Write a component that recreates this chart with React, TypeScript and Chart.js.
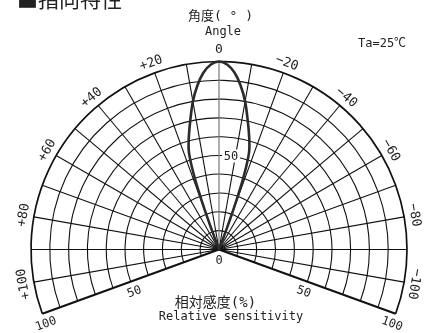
import { useEffect, useRef } from "react";
import { Chart, registerables } from "chart.js";

Chart.register(...registerables);

// Directivity pattern (angle from axis in degrees, positive = left side)
const ANGLES = [-21, -20.5, -20, -19.5, -19, -18, -17, -15, -12.5, -10, -7.5, -5, -2.5, 0, 2.5, 5, 7.5, 10, 12.5, 15, 17, 18, 19, 19.5, 20, 20.5, 21];
const SENSITIVITY = [0, 8, 18, 28, 37, 48, 55, 62, 70.5, 80, 88, 94.5, 98.5, 100, 98.5, 94.5, 88, 80, 70.5, 62, 55, 48, 37, 28, 18, 8, 0];

// Grid
const RINGS = [10, 20, 30, 40, 50, 60, 70, 80, 90, 100];
const SPOKES = [-110, -100, -90, -80, -70, -60, -50, -40, -30, -20, -10, 0, 10, 20, 30, 40, 50, 60, 70, 80, 90, 100, 110];

// Angle tick labels
const ANGLE_TICKS = [100, 80, 60, 40, 20, 0, -20, -40, -60, -80, -100];
const ANGLE_TICK_LABELS = ["+100", "+80", "+60", "+40", "+20", "0", "\u221220", "\u221240", "\u221260", "\u221280", "\u2212100"];

// Radial tick labels along the boundary
const RADIAL_TICKS = [50, 100];
const RADIAL_TICK_LABELS = ["50", "100"];

const TITLE = "■指向特性";
const ANGLE_TITLE_JA = "角度( ° )";
const ANGLE_TITLE_EN = "Angle";
const SENS_TITLE_JA = "相対感度(%)";
const SENS_TITLE_EN = "Relative sensitivity";
const CONDITION = "Ta=25℃";

const W = 433;
const H = 333;
const CX = 219;
const CY = 249.5;
const UNIT = 1.88; // px per percent
const FONT = "'DejaVu Sans Mono','Noto Sans CJK JP',sans-serif";
const TXT = "#222";

const rad = (d: number) => (d * Math.PI) / 180;

const gridPlugin = {
  id: "polarGrid",
  beforeDatasetsDraw(chart: any) {
    const { ctx } = chart;
    const xs = chart.scales.x;
    const ys = chart.scales.y;
    const P = (vx: number, vy: number) => [xs.getPixelForValue(vx), ys.getPixelForValue(vy)];
    const [cx, cy] = P(0, 0);
    const unit = xs.getPixelForValue(1) - cx;
    const maxA = Math.max(...SPOKES);
    const maxR = Math.max(...RINGS);
    ctx.save();
    ctx.fillStyle = "#fff";
    ctx.fillRect(0, 0, chart.width, chart.height);
    const a0 = Math.atan2(-Math.cos(rad(maxA)), -Math.sin(rad(maxA)));
    const a1 = Math.atan2(-Math.cos(rad(-maxA)), Math.sin(rad(maxA))) + 2 * Math.PI;
    RINGS.forEach((r) => {
      ctx.beginPath();
      ctx.arc(cx, cy, r * unit, a0, a1, false);
      ctx.lineWidth = r === maxR ? 1.7 : 1.1;
      ctx.strokeStyle = "#111";
      ctx.stroke();
    });
    SPOKES.forEach((a) => {
      const [ex, ey] = P(-maxR * Math.sin(rad(a)), maxR * Math.cos(rad(a)));
      ctx.beginPath();
      ctx.moveTo(cx, cy);
      ctx.lineTo(ex, ey);
      if (a === 0) {
        ctx.strokeStyle = "#777";
        ctx.lineWidth = 1.2;
      } else if (Math.abs(a) === maxA) {
        ctx.strokeStyle = "#111";
        ctx.lineWidth = 2;
      } else {
        ctx.strokeStyle = "#111";
        ctx.lineWidth = 1.1;
      }
      ctx.stroke();
    });
    ctx.restore();
  },
  afterDatasetsDraw(chart: any) {
    const { ctx } = chart;
    const xs = chart.scales.x;
    const ys = chart.scales.y;
    const P = (vx: number, vy: number) => [xs.getPixelForValue(vx), ys.getPixelForValue(vy)];
    const [cx, cy] = P(0, 0);
    const maxA = Math.max(...SPOKES);
    ctx.save();
    ctx.fillStyle = TXT;
    ctx.textAlign = "center";
    ctx.textBaseline = "middle";

    // angle tick labels
    ctx.font = `13px ${FONT}`;
    ANGLE_TICKS.forEach((a, i) => {
      const lr = a === 0 ? 106.5 : 105.5;
      const [lx, ly] = P(-lr * Math.sin(rad(a)), lr * Math.cos(rad(a)));
      ctx.save();
      ctx.translate(lx, ly);
      ctx.rotate(rad(-a));
      ctx.fillText(ANGLE_TICK_LABELS[i], 0, 0);
      ctx.restore();
    });

    // radial labels along boundary lines
    ctx.font = `12px ${FONT}`;
    [maxA, -maxA].forEach((a) => {
      const ux = -Math.sin(rad(a));
      const uy = Math.cos(rad(a));
      RADIAL_TICKS.forEach((r, i) => {
        const [bx, by] = P(r * ux, r * uy);
        const dirA = a > 0 ? rad(-(a - 90)) : rad(-(a + 90));
        const off = 11;
        const px = bx + (a > 0 ? Math.sin(rad(a - 90)) : -Math.sin(rad(-a - 90))) * off;
        const py = by + Math.cos(rad(Math.abs(a) - 90)) * off;
        ctx.save();
        ctx.translate(px, py);
        ctx.rotate(dirA);
        ctx.fillText(RADIAL_TICK_LABELS[i], 0, 0);
        ctx.restore();
      });
    });

    // center 0
    ctx.fillText("0", cx, cy + 11);

    // 50 on vertical axis with white box
    const [mx, my] = P(0, 50);
    ctx.fillStyle = "#fff";
    ctx.fillRect(mx + 3, my - 6, 18, 13);
    ctx.fillStyle = TXT;
    ctx.fillText("50", mx + 12, my + 1);

    // titles
    ctx.font = `13px ${FONT}`;
    ctx.fillText(ANGLE_TITLE_JA, 220.5, 17);
    ctx.font = `12px ${FONT}`;
    ctx.textBaseline = "alphabetic";
    ctx.fillText(ANGLE_TITLE_EN, 223, 35);
    ctx.fillText(SENS_TITLE_EN, 231, 320);
    ctx.textAlign = "left";
    ctx.fillText(CONDITION, 358, 47);
    ctx.textAlign = "center";
    ctx.font = `14px ${FONT}`;
    ctx.textBaseline = "middle";
    ctx.fillText(SENS_TITLE_JA, 215.5, 303);
    ctx.textAlign = "left";
    ctx.textBaseline = "alphabetic";
    ctx.font = `21px 'Noto Sans CJK JP',sans-serif`;
    ctx.fillText(TITLE, 17, 7);
    ctx.restore();
  },
};

export default function App() {
  const ref = useRef<HTMLCanvasElement | null>(null);
  useEffect(() => {
    if (!ref.current) return;
    const points = ANGLES.map((a, i) => ({
      x: -SENSITIVITY[i] * Math.sin(rad(a)),
      y: SENSITIVITY[i] * Math.cos(rad(a)),
    }));
    const chart = new Chart(ref.current, {
      type: "scatter",
      data: {
        datasets: [
          {
            data: points,
            showLine: true,
            borderColor: "#2b2b2b",
            borderWidth: 2.6,
            pointRadius: 0,
            tension: 0.3,
            fill: false,
            borderJoinStyle: "round",
          } as any,
        ],
      },
      options: {
        responsive: false,
        maintainAspectRatio: false,
        animation: false,
        layout: { padding: 0 },
        plugins: { legend: { display: false }, tooltip: { enabled: false } },
        scales: {
          x: { type: "linear", display: false, min: -CX / UNIT, max: (W - CX) / UNIT },
          y: { type: "linear", display: false, min: -(H - CY) / UNIT, max: CY / UNIT },
        },
      },
      plugins: [gridPlugin],
    });
    return () => chart.destroy();
  }, []);
  return (
    <div style={{ position: "absolute", left: 0, top: 0, width: W, height: H }}>
      <canvas ref={ref} width={W} height={H} style={{ width: W, height: H, display: "block" }} />
    </div>
  );
}
